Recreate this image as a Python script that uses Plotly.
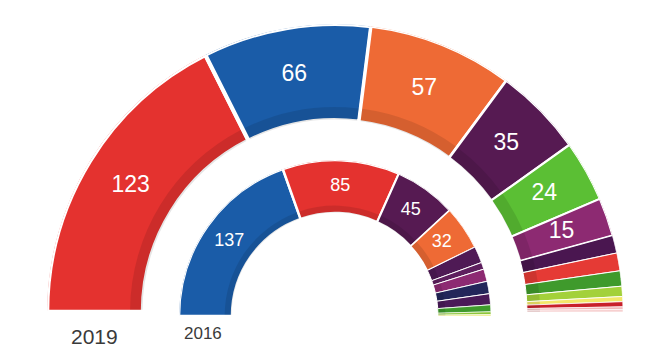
import numpy as np
import plotly.graph_objects as go

# ---- data ----
parties_2019 = ["PSOE", "PP", "Cs", "UP", "Vox", "ERC", "ECP", "JxCat", "PNV", "EH Bildu", "CCa", "NA+", "Compromís", "PRC"]
seats_2019 = [123, 66, 57, 35, 24, 15, 7, 7, 6, 4, 2, 2, 1, 1]
colors_2019 = ["#e4322f", "#1a5ca8", "#ee6a35", "#561a52", "#5bbf34", "#8d2a72", "#4a1650",
               "#e53a35", "#3f9a2c", "#a3d13a", "#f3e86a", "#c8202a", "#f2b6b8", "#f7d0d0"]
labels_2019 = ["123", "66", "57", "35", "24", "15", "", "", "", "", "", "", "", ""]

parties_2016 = ["PP", "PSOE", "Podemos", "Cs", "ECP", "En Marea", "Compromís", "ERC", "CDC", "PNV", "EH Bildu", "CC"]
seats_2016 = [137, 85, 45, 32, 12, 5, 9, 9, 8, 5, 2, 1]
colors_2016 = ["#1a5ca8", "#e4322f", "#561a52", "#ee6a35", "#4f1a55", "#5e1f5e", "#8d2a72",
               "#23265a", "#4a1a58", "#3f9a2c", "#8cc63a", "#e8e86a"]
labels_2016 = ["137", "85", "45", "32", "", "", "", "", "", "", "", ""]

year_labels = ["2019", "2016"]

TOTAL = 350
W, H = 649, 363

# ring geometry (pixels)
OUT = dict(cx=335, cy=312, r_in=192, r_out=288)
INN = dict(cx=335, cy=316, r_in=103, r_out=156)


def geometry(seats):
    s = np.array(seats, dtype=float)
    start = np.cumsum(s) - s
    mid = 180 - (start + s / 2) * 180 / TOTAL
    width = s * 180 / TOTAL
    return mid, width


def add_ring(fig, seats, colors, labels, names, ring, line_w, font_size, subplot):
    mid, w = geometry(seats)
    n = len(seats)
    thick = ring["r_out"] - ring["r_in"]
    fig.add_trace(go.Barpolar(
        theta=mid, width=w, base=[ring["r_in"]] * n, r=[thick] * n,
        marker=dict(color=colors, line=dict(color="white", width=line_w)),
        text=names, hoverinfo="text", showlegend=False, subplot=subplot))
    # subtle darker band along the inner edge (3D look), narrowed to keep the white gaps
    band = thick * 0.13
    r_band = ring["r_in"] + band / 2
    w_band = np.maximum(w - np.array(line_w) / r_band * 180 / np.pi, 0.01)
    fig.add_trace(go.Barpolar(
        theta=mid, width=w_band, base=[ring["r_in"] + 0.5] * n, r=[band] * n,
        marker=dict(color="rgba(0,0,0,0.10)", line=dict(color="rgba(0,0,0,0)", width=0)),
        hoverinfo="skip", showlegend=False, subplot=subplot))
    fig.add_trace(go.Scatterpolar(
        theta=mid, r=[(ring["r_in"] + ring["r_out"]) / 2] * n, mode="text",
        text=labels, textfont=dict(color="white", size=font_size, family="Liberation Sans"),
        hoverinfo="skip", showlegend=False, subplot=subplot))


fig = go.Figure()
add_ring(fig, seats_2019, colors_2019, labels_2019, parties_2019, OUT,
         [4.5, 4, 3, 2.5, 2, 2, 1.2, 1, 1, 1, 0.8, 0.8, 0.6, 0.6], 23, "polar")
add_ring(fig, seats_2016, colors_2016, labels_2016, parties_2016, INN,
         [2.5, 2.5, 2, 1.5, 1, 1, 1, 1, 1, 0.8, 0.6, 0.6], 18, "polar2")


def polar_layout(ring, bg):
    R = ring["r_out"]
    return dict(
        domain=dict(x=[(ring["cx"] - R) / W, (ring["cx"] + R) / W],
                    y=[(H - ring["cy"]) / H, (H - ring["cy"] + R) / H]),
        sector=[0, 180], bgcolor=bg,
        radialaxis=dict(visible=False, range=[0, R]),
        angularaxis=dict(visible=False, direction="counterclockwise", rotation=0),
    )


fig.update_layout(
    width=W, height=H, margin=dict(l=0, r=0, t=0, b=0),
    paper_bgcolor="white", plot_bgcolor="white",
    polar=polar_layout(OUT, "white"),
    polar2=polar_layout(INN, "rgba(0,0,0,0)"),
    annotations=[
        dict(text=year_labels[0], x=94 / W, y=1 - 336 / H, xref="paper", yref="paper",
             xanchor="center", yanchor="middle", showarrow=False,
             font=dict(size=21, color="#3a3a3a", family="Liberation Sans")),
        dict(text=year_labels[1], x=203 / W, y=1 - 333 / H, xref="paper", yref="paper",
             xanchor="center", yanchor="middle", showarrow=False,
             font=dict(size=17, color="#3a3a3a", family="Liberation Sans")),
    ],
)

fig.write_html("out.html", config={"displayModeBar": False},
               post_script="document.body.style.margin='0px';")
